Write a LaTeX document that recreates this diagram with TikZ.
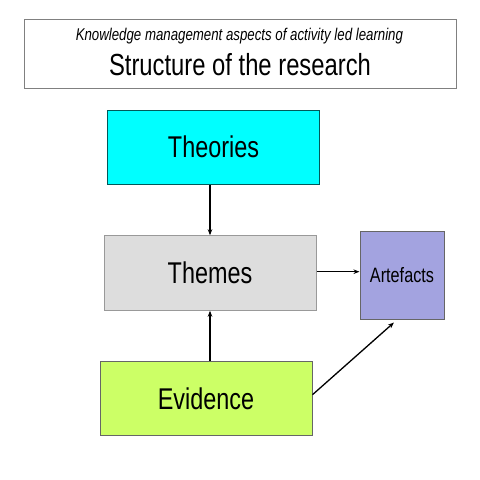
\documentclass[tikz,border=0pt]{standalone}
\usepackage{fontspec}
\setmainfont[FakeStretch=0.78]{Liberation Sans}
\usetikzlibrary{arrows.meta}

\definecolor{theorycyan}{HTML}{00FFFF}
\definecolor{themegray}{HTML}{DDDDDD}
\definecolor{artefactblue}{HTML}{A3A3E0}
\definecolor{evidencegreen}{HTML}{CCFF66}

\begin{document}
\begin{tikzpicture}[x=1pt, y=-1pt,
    box/.style={draw, rectangle, line width=1pt, inner sep=0pt,
        minimum width=212pt, minimum height=74pt, font=\fontsize{30}{36}\selectfont},
    link/.style={line width=1.3pt, -{Stealth[length=6pt,width=4.5pt]}}
]

    % Keep the page at the size of the reference
    \useasboundingbox (0,0) rectangle (480,480);

    % Heading box with its two lines of text
    \node[draw=black!50, line width=1pt, minimum width=432pt, minimum height=69pt] (heading) at (240,53.6) {};
    \node[anchor=base, font=\fontsize{17}{20}\selectfont\itshape] (subtitle) at (239.4,40)
        {Knowledge management aspects of activity led learning};
    \node[anchor=base, font=\fontsize{30.5}{36}\selectfont] (maintitle) at (240,75)
        {Structure of the research};

    % The three main boxes
    \node[box, fill=theorycyan, draw=teal!70!black] (theories) at (213.5,147) {Theories};
    \node[box, fill=themegray, draw=black!40, minimum height=74.5pt] (themes) at (210,273) {Themes};
    \node[box, fill=evidencegreen, draw=black!60, minimum height=74.5pt] (evidence) at (206,398.7) {Evidence};

    % Artefacts box on the right
    \node[box, fill=artefactblue, draw=black!60, minimum width=84pt, minimum height=88pt,
        font=\fontsize{20.8}{24}\selectfont] (artefacts) at (402,275) {Artefacts};

    % Arrows between the boxes
    \draw[link] (themes.north |- theories.south) -- (themes.north);
    \draw[link] (themes.south |- evidence.north) -- (themes.south);
    \draw[link] ([yshift=1.3pt]themes.east) -- ([yshift=1.3pt]themes.east -| artefacts.west);
    \draw[link] ([yshift=4pt]evidence.east) -- ([xshift=-8pt,yshift=-3pt]artefacts.south);

\end{tikzpicture}
\end{document}
